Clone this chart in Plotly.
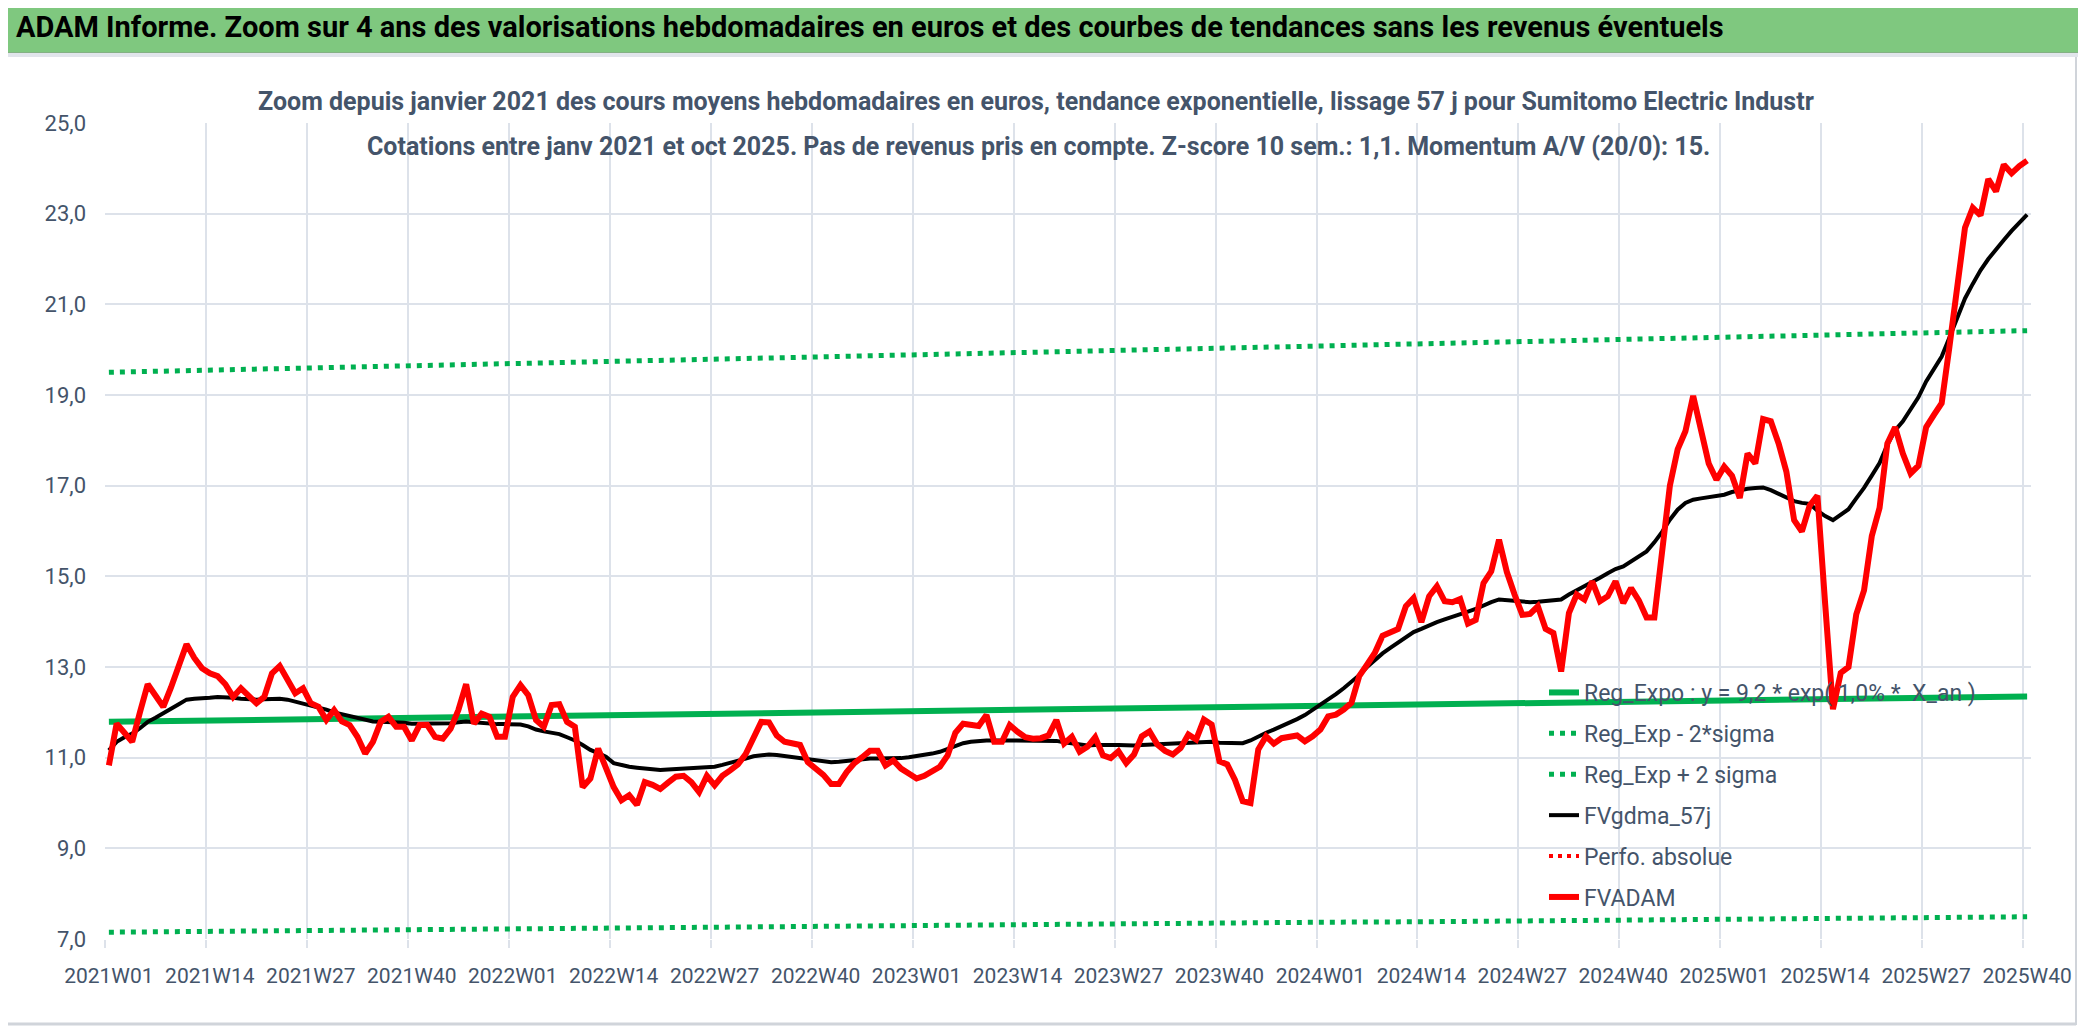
import plotly.graph_objects as go

# Semaines ISO affichées (2021W01 -> 2025W40)
semaines = [f"{a}W{s:02d}" for a in (2021, 2022, 2023, 2024) for s in range(1, 53)]
semaines += [f"2025W{s:02d}" for s in range(1, 41)]

# Cours moyen hebdomadaire (FVADAM)
fvadam = [
    10.83, 11.75, 11.55, 11.35, 12.00, 12.62, 12.37, 12.12, 12.55, 13.00,
    13.50, 13.20, 12.97, 12.86, 12.80, 12.62, 12.34, 12.53, 12.37, 12.20,
    12.34, 12.86, 13.02, 12.75, 12.42, 12.53, 12.20, 12.12, 11.83, 12.05,
    11.80, 11.72, 11.46, 11.09, 11.35, 11.79, 11.90, 11.68, 11.68, 11.38,
    11.72, 11.72, 11.46, 11.42, 11.64, 12.05, 12.62, 11.75, 11.97, 11.90,
    11.46, 11.46, 12.34, 12.60, 12.38, 11.83, 11.68, 12.16, 12.18, 11.79,
    11.68, 10.35, 10.54, 11.20, 10.76, 10.35, 10.06, 10.17, 9.96, 10.46,
    10.40, 10.31, 10.45, 10.58, 10.60, 10.46, 10.24, 10.60, 10.39, 10.60,
    10.72, 10.85, 11.08, 11.45, 11.79, 11.78, 11.49, 11.35, 11.31, 11.28,
    10.90, 10.76, 10.62, 10.42, 10.42, 10.68, 10.88, 11.01, 11.15, 11.15,
    10.83, 10.94, 10.76, 10.65, 10.54, 10.60, 10.70, 10.80, 11.05, 11.55,
    11.75, 11.72, 11.70, 11.94, 11.35, 11.35, 11.72, 11.57, 11.45, 11.42,
    11.43, 11.49, 11.83, 11.31, 11.46, 11.13, 11.24, 11.45, 11.05, 10.99,
    11.14, 10.88, 11.07, 11.47, 11.58, 11.29, 11.15, 11.07, 11.21, 11.51,
    11.40, 11.84, 11.73, 10.92, 10.85, 10.51, 10.04, 10.00, 11.18, 11.47,
    11.31, 11.43, 11.47, 11.49, 11.36, 11.47, 11.62, 11.91, 11.95, 12.06,
    12.21, 12.80, 13.05, 13.31, 13.69, 13.76, 13.84, 14.34, 14.52, 13.99,
    14.56, 14.78, 14.45, 14.43, 14.50, 13.96, 14.04, 14.85, 15.11, 15.81,
    15.10, 14.60, 14.15, 14.17, 14.34, 13.84, 13.75, 12.90, 14.19, 14.60,
    14.49, 14.89, 14.45, 14.56, 14.89, 14.41, 14.74, 14.47, 14.09, 14.09,
    15.70, 17.00, 17.80, 18.20, 18.98, 18.29, 17.49, 17.13, 17.42, 17.22,
    16.73, 17.71, 17.49, 18.47, 18.42, 17.93, 17.31, 16.24, 15.99, 16.56,
    16.78, 14.38, 12.07, 12.87, 13.00, 14.16, 14.69, 15.89, 16.51, 17.93,
    18.29, 17.71, 17.27, 17.44, 18.29, 18.56, 18.82, 20.07, 21.40, 22.69,
    23.13, 22.96, 23.76, 23.49, 24.08, 23.89, 24.05, 24.17,
]

# Moyenne mobile 57 j (FVgdma_57j)
fvgdma_57j = [
    11.16, 11.35, 11.45, 11.53, 11.65, 11.79, 11.88, 11.97, 12.08, 12.18,
    12.28, 12.30, 12.30, 12.32, 12.34, 12.34, 12.32, 12.30, 12.28, 12.28,
    12.29, 12.30, 12.30, 12.28, 12.24, 12.20, 12.16, 12.12, 12.06, 12.00,
    11.96, 11.92, 11.87, 11.83, 11.80, 11.79, 11.79, 11.78, 11.77, 11.75,
    11.75, 11.74, 11.74, 11.74, 11.76, 11.78, 11.80, 11.78, 11.76, 11.75,
    11.74, 11.74, 11.74, 11.73, 11.69, 11.62, 11.58, 11.55, 11.52, 11.45,
    11.38, 11.28, 11.17, 11.10, 11.02, 10.88, 10.83, 10.80, 10.78, 10.76,
    10.74, 10.73, 10.74, 10.75, 10.76, 10.76, 10.76, 10.78, 10.80, 10.84,
    10.88, 10.93, 10.98, 11.03, 11.06, 11.07, 11.06, 11.04, 11.01, 10.99,
    10.96, 10.94, 10.92, 10.90, 10.91, 10.93, 10.95, 10.97, 10.98, 10.98,
    10.98, 10.98, 10.99, 11.01, 11.03, 11.06, 11.09, 11.13, 11.20, 11.27,
    11.32, 11.35, 11.37, 11.38, 11.38, 11.38, 11.38, 11.38, 11.38, 11.38,
    11.38, 11.38, 11.37, 11.34, 11.31, 11.29, 11.27, 11.28, 11.29, 11.28,
    11.28, 11.27, 11.27, 11.28, 11.29, 11.30, 11.30, 11.31, 11.32, 11.34,
    11.35, 11.36, 11.35, 11.33, 11.32, 11.32, 11.32, 11.38, 11.47, 11.55,
    11.62, 11.69, 11.76, 11.85, 11.94, 12.05, 12.17, 12.29, 12.40, 12.53,
    12.67, 12.82, 13.00, 13.16, 13.30, 13.42, 13.54, 13.66, 13.77, 13.84,
    13.92, 13.99, 14.05, 14.10, 14.16, 14.22, 14.28, 14.36, 14.43, 14.49,
    14.47, 14.45, 14.44, 14.43, 14.44, 14.45, 14.47, 14.49, 14.60, 14.69,
    14.78, 14.86, 14.97, 15.07, 15.16, 15.22, 15.33, 15.44, 15.55, 15.75,
    15.98, 16.25, 16.47, 16.62, 16.69, 16.72, 16.74, 16.76, 16.80, 16.86,
    16.90, 16.93, 16.95, 16.96, 16.90, 16.82, 16.74, 16.66, 16.62, 16.60,
    16.45, 16.33, 16.24, 16.35, 16.48, 16.72, 16.95, 17.22, 17.50, 17.90,
    18.22, 18.42, 18.70, 18.95, 19.30, 19.58, 19.85, 20.27, 20.68, 21.13,
    21.45, 21.75, 22.00, 22.22, 22.42, 22.62, 22.80, 22.98,
]

# Régression exponentielle et bandes +/- 2 sigma, lues à chaque graduation (toutes les 13 semaines)
semaines_reg = semaines[::13]
reg_expo = [11.79, 11.82, 11.85, 11.88, 11.91, 11.94, 11.96, 11.99, 12.02, 12.05,
            12.08, 12.11, 12.14, 12.17, 12.20, 12.23, 12.26, 12.29, 12.32, 12.35]
reg_moins_2s = [7.15, 7.17, 7.19, 7.21, 7.22, 7.24, 7.26, 7.28, 7.30, 7.31,
                7.33, 7.35, 7.37, 7.38, 7.40, 7.42, 7.44, 7.46, 7.47, 7.49]
reg_plus_2s = [19.50, 19.55, 19.60, 19.64, 19.69, 19.74, 19.79, 19.84, 19.89, 19.94,
               19.99, 20.04, 20.09, 20.14, 20.19, 20.24, 20.29, 20.34, 20.39, 20.42]
# Perfo. absolue : hors de l'échelle, seule la légende apparaît
perfo_absolue = [None]

# La page HTML a une marge de 8 px : on travaille en pixels écran
MARGE_PAGE = 8
W, H = 2086 - MARGE_PAGE, 1031 - MARGE_PAGE
SL, SR, ST, SB = 105, 2031, 123, 939   # zone de tracé, pixels écran
POLICE = "Roboto, Arial, sans-serif"
GRIS_TEXTE = "#44546A"
GRILLE = "#DDE2EA"
VERT = "#00B050"


def px(x):
    # pixel écran -> coordonnée "paper" horizontale
    return (x - SL) / (SR - SL)


def py(y):
    # pixel écran -> coordonnée "paper" verticale
    return (SB - y) / (SB - ST)


fig = go.Figure()

series = [
    ("Reg_Expo : y = 9,2 * exp( 1,0% *  X_an )", semaines_reg, reg_expo, dict(color=VERT, width=6)),
    ("Reg_Exp - 2*sigma", semaines_reg, reg_moins_2s, dict(color=VERT, width=5, dash="5px,6px")),
    ("Reg_Exp + 2 sigma", semaines_reg, reg_plus_2s, dict(color=VERT, width=5, dash="5px,6px")),
    ("FVgdma_57j", semaines, fvgdma_57j, dict(color="black", width=4)),
    ("Perfo. absolue", semaines[:len(perfo_absolue)], perfo_absolue, dict(color="red", width=4, dash="4px,5px")),
    ("FVADAM", semaines, fvadam, dict(color="red", width=6)),
]
for nom, x, y, ligne in series:
    fig.add_trace(go.Scatter(x=x, y=y, mode="lines", name=nom, line=ligne,
                             legendgroup=nom, showlegend=True))

# Bandeau de titre vert + cadre
shapes = [
    dict(type="rect", xref="paper", yref="paper", x0=px(0), x1=px(2080), y0=py(53), y1=py(1),
         fillcolor="#7FC87F", line=dict(color="#8A9A8A", width=1), layer="above"),
    dict(type="rect", xref="paper", yref="paper", x0=px(0), x1=px(2080), y0=py(57), y1=py(53),
         fillcolor="#E1E5EB", line=dict(width=0), layer="above"),
    dict(type="line", xref="paper", yref="paper", x0=px(2076), x1=px(2076), y0=py(57), y1=py(1025),
         line=dict(color="#D0D4DA", width=2)),
    dict(type="line", xref="paper", yref="paper", x0=px(0), x1=px(2076), y0=py(1024), y1=py(1024),
         line=dict(color="#D0D4DA", width=3)),
    # fond blanc derrière le sous-titre (masque la grille)
    dict(type="rect", xref="paper", yref="paper", x0=px(257), x1=px(1815), y0=py(169), y1=py(110),
         fillcolor="white", line=dict(width=0), layer="between"),
]

annotations = [
    dict(text="<b>Zoom depuis janvier 2021 des cours moyens hebdomadaires en euros, tendance exponentielle, "
              "lissage 57 j pour Sumitomo Electric Industr</b>",
         x=px(1036), y=py(101), xref="paper", yref="paper", showarrow=False,
         font=dict(size=25, color=GRIS_TEXTE, family=POLICE), xanchor="center", yanchor="middle"),
    dict(text="<b>Cotations entre janv 2021 et oct 2025. Pas de revenus pris en compte. "
              "Z-score 10 sem.: 1,1. Momentum A/V (20/0): 15.</b>",
         x=px(1038), y=py(146), xref="paper", yref="paper", showarrow=False,
         font=dict(size=25, color=GRIS_TEXTE, family=POLICE), xanchor="center", yanchor="middle"),
]

fig.update_layout(
    width=W, height=H,
    margin=dict(l=SL - MARGE_PAGE, r=W - (SR - MARGE_PAGE),
                t=ST - MARGE_PAGE, b=H - (SB - MARGE_PAGE)),
    paper_bgcolor="white", plot_bgcolor="white",
    font=dict(family=POLICE, size=22, color=GRIS_TEXTE),
    separators=", ",
    title=dict(text="<b>ADAM Informe. Zoom sur 4 ans des valorisations hebdomadaires en euros "
                    "et des courbes de tendances sans les revenus éventuels</b>",
               x=(16 - MARGE_PAGE) / W, y=1 - (27 - MARGE_PAGE) / H,
               xref="container", yref="container",
               xanchor="left", yanchor="middle",
               font=dict(size=29, color="black", family=POLICE)),
    showlegend=True,
    legend=dict(x=px(1544), y=py(671), xanchor="left", yanchor="top",
                bgcolor="rgba(0,0,0,0)", font=dict(size=23, color=GRIS_TEXTE),
                tracegroupgap=8, traceorder="grouped"),
    shapes=shapes,
    annotations=annotations,
)

fig.update_xaxes(
    type="category", categoryorder="array", categoryarray=semaines,
    range=[-0.5, len(semaines) - 0.5],
    tickmode="linear", tick0=0, dtick=13, tickson="boundaries",
    ticks="outside", ticklen=8, tickcolor=GRILLE, tickwidth=1.5,
    showgrid=True, gridcolor=GRILLE, gridwidth=1.5,
    showline=False, tickangle=0, ticklabelstandoff=22,
    tickfont=dict(size=21, color=GRIS_TEXTE),
)
fig.update_yaxes(
    range=[7, 25], tick0=7, dtick=2, tickformat=".1f",
    showgrid=True, gridcolor=GRILLE, gridwidth=1.5, zeroline=False,
    ticklabelstandoff=18, tickfont=dict(size=22, color=GRIS_TEXTE),
)

fig.write_html("out.html")
